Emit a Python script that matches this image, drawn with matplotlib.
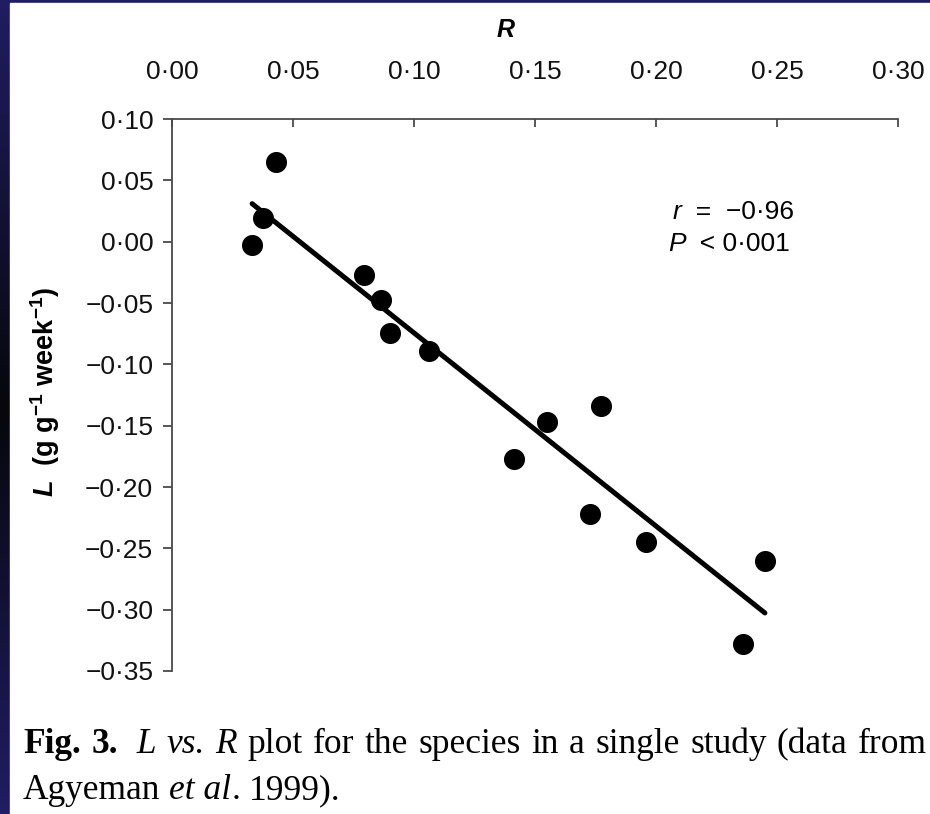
import numpy as np
import matplotlib
matplotlib.use("Agg")
import matplotlib.pyplot as plt
from matplotlib.ticker import FuncFormatter
from matplotlib.colors import LinearSegmentedColormap

# R and L values (Agyeman et al. 1999)
r_vals = [0.0331, 0.0378, 0.0430, 0.0795, 0.0863, 0.0902, 0.1060,
          0.1412, 0.1550, 0.1773, 0.1729, 0.1960, 0.2450, 0.2360]
l_vals = [-0.0029, 0.0197, 0.0650, -0.0273, -0.0474, -0.0748, -0.0892,
          -0.1773, -0.1469, -0.1338, -0.2221, -0.2447, -0.2601, -0.3280]
x_ticks = [0.00, 0.05, 0.10, 0.15, 0.20, 0.25, 0.30]
y_ticks = [0.10, 0.05, 0.00, -0.05, -0.10, -0.15, -0.20, -0.25, -0.30, -0.35]
stat_r = "−0·96"
stat_p = "0·001"

W, H = 930, 814

plt.rcParams['font.family'] = ['Liberation Sans', 'DejaVu Sans']
plt.rcParams['mathtext.fontset'] = 'custom'
plt.rcParams['mathtext.rm'] = 'Liberation Sans:bold'
plt.rcParams['mathtext.it'] = 'Liberation Sans:italic:bold'
plt.rcParams['mathtext.bf'] = 'Liberation Sans:bold'

fig = plt.figure(figsize=(W / 100, H / 100), dpi=100)
fig.patch.set_facecolor('#1b1954')

# slide frame: white page with a navy/black strip on the left
bg = fig.add_axes([0, 0, 1, 1])
bg.set_axis_off()
grad = np.concatenate([np.linspace(0, 1, 50), np.linspace(1, 0, 50)])[:, None]
cm = LinearSegmentedColormap.from_list('frame', ['#201d62', '#07070c'])
bg.imshow(grad, cmap=cm, extent=[0, 1, 0, 1], aspect='auto')
bg.add_patch(plt.Rectangle((10 / W, 0), 1, 1 - 3 / H, color='white', zorder=2))
bg.set_xlim(0, 1)
bg.set_ylim(0, 1)

ax = fig.add_axes([172 / W, 1 - 671 / H, 726 / W, 552 / H])
ax.set_facecolor('none')

ax.scatter(r_vals, l_vals, s=200, color='black', zorder=3)
k, b = np.polyfit(r_vals, l_vals, 1)
xf = np.array([min(r_vals), max(r_vals)])
ax.plot(xf, k * xf + b, color='black', lw=3.6, solid_capstyle='round', zorder=2)

ax.set_xlim(0, 0.30)
ax.set_ylim(-0.35, 0.10)

fmt = FuncFormatter(lambda v, p: f"{v:.2f}".replace('-', '−').replace('.', '·').replace('−0·00', '0·00'))
ax.xaxis.set_major_formatter(fmt)
ax.yaxis.set_major_formatter(fmt)
ax.set_xticks(x_ticks)
ax.set_yticks(y_ticks)

ax.xaxis.tick_top()
ax.xaxis.set_label_position('top')
ax.spines['bottom'].set_visible(False)
ax.spines['right'].set_visible(False)
for s in ['top', 'left']:
    ax.spines[s].set_color('#4a4a4a')
    ax.spines[s].set_linewidth(1.3)
ax.tick_params(axis='x', direction='in', length=6, width=1.3, color='#4a4a4a',
               labelsize=19, pad=25, labelcolor='#111111')
ax.tick_params(axis='y', direction='out', length=6.5, width=1.3, color='#4a4a4a',
               labelsize=19, pad=7, labelcolor='#111111')

ax.set_xlabel('R', fontsize=18, fontweight='bold', fontstyle='italic')
ax.xaxis.set_label_coords(0.459, 1.161)
ax.xaxis.label.set_va('center')

ax.set_ylabel(r'$L$  (g g$^{-1}$ week$^{-1}$)', fontsize=19.5, fontweight='bold')
ax.yaxis.set_label_coords(-0.175, 0.505)
ax.yaxis.label.set_va('center')


def chain(parts, x, y, size, family, coords):
    # put text pieces with their own styles one after another
    t = ax.annotate(parts[0][0], xy=(x, y), xycoords=coords, fontsize=size,
                    family=family, va='baseline', ha='left', annotation_clip=False,
                    **parts[0][1])
    for txt, kw in parts[1:]:
        t = ax.annotate(txt, xy=(1, 0), xycoords=t, fontsize=size, family=family,
                        va='bottom', ha='left', annotation_clip=False, **kw)


chain([('r', dict(style='italic')), ('  =  ' + stat_r, {})],
      0.689, 0.818, 19, 'Liberation Sans', 'axes fraction')
chain([('P', dict(style='italic')), ('  < ' + stat_p, {})],
      0.683, 0.760, 19, 'Liberation Sans', 'axes fraction')


# caption, word by word so line 1 can be justified like the journal text
def caption_line(words, x0, y, size, x1=None):
    rend = fig.canvas.get_renderer()
    arts, widths = [], []
    for txt, kw, glue in words:
        t = fig.text(0, 1 - y / H, txt, fontsize=size, family='Liberation Serif',
                     va='baseline', ha='left', **kw)
        arts.append(t)
        widths.append(t.get_window_extent(rend).width)
    n_gaps = sum(1 for w in words[1:] if not w[2])
    gap = 0.25 * size * 100 / 72
    if x1 is not None:
        gap = (x1 - x0 - sum(widths)) / n_gaps
    x = x0
    for t, wd, (txt, kw, glue) in zip(arts, widths, words):
        if x > x0 and not glue:
            x += gap
        t.set_x(x / W)
        x += wd


it = dict(style='italic')
line1 = [('Fig.', dict(weight='bold'), False), ('3.', dict(weight='bold'), False),
         (' L', it, False), ('vs.', it, False), ('R', it, False), ('plot', {}, False),
         ('for', {}, False), ('the', {}, False), ('species', {}, False), ('in', {}, False),
         ('a', {}, False), ('single', {}, False), ('study', {}, False),
         ('(data', {}, False), ('from', {}, False)]
line2 = [('Agyeman', {}, False), ('et al', it, False), ('.', {}, True),
         ('1999).', {}, False)]
caption_line(line1, 23, 753, 25.5, x1=927)
caption_line(line2, 23, 799, 25.5)

fig.savefig('out.png', dpi=100, facecolor=fig.get_facecolor())
